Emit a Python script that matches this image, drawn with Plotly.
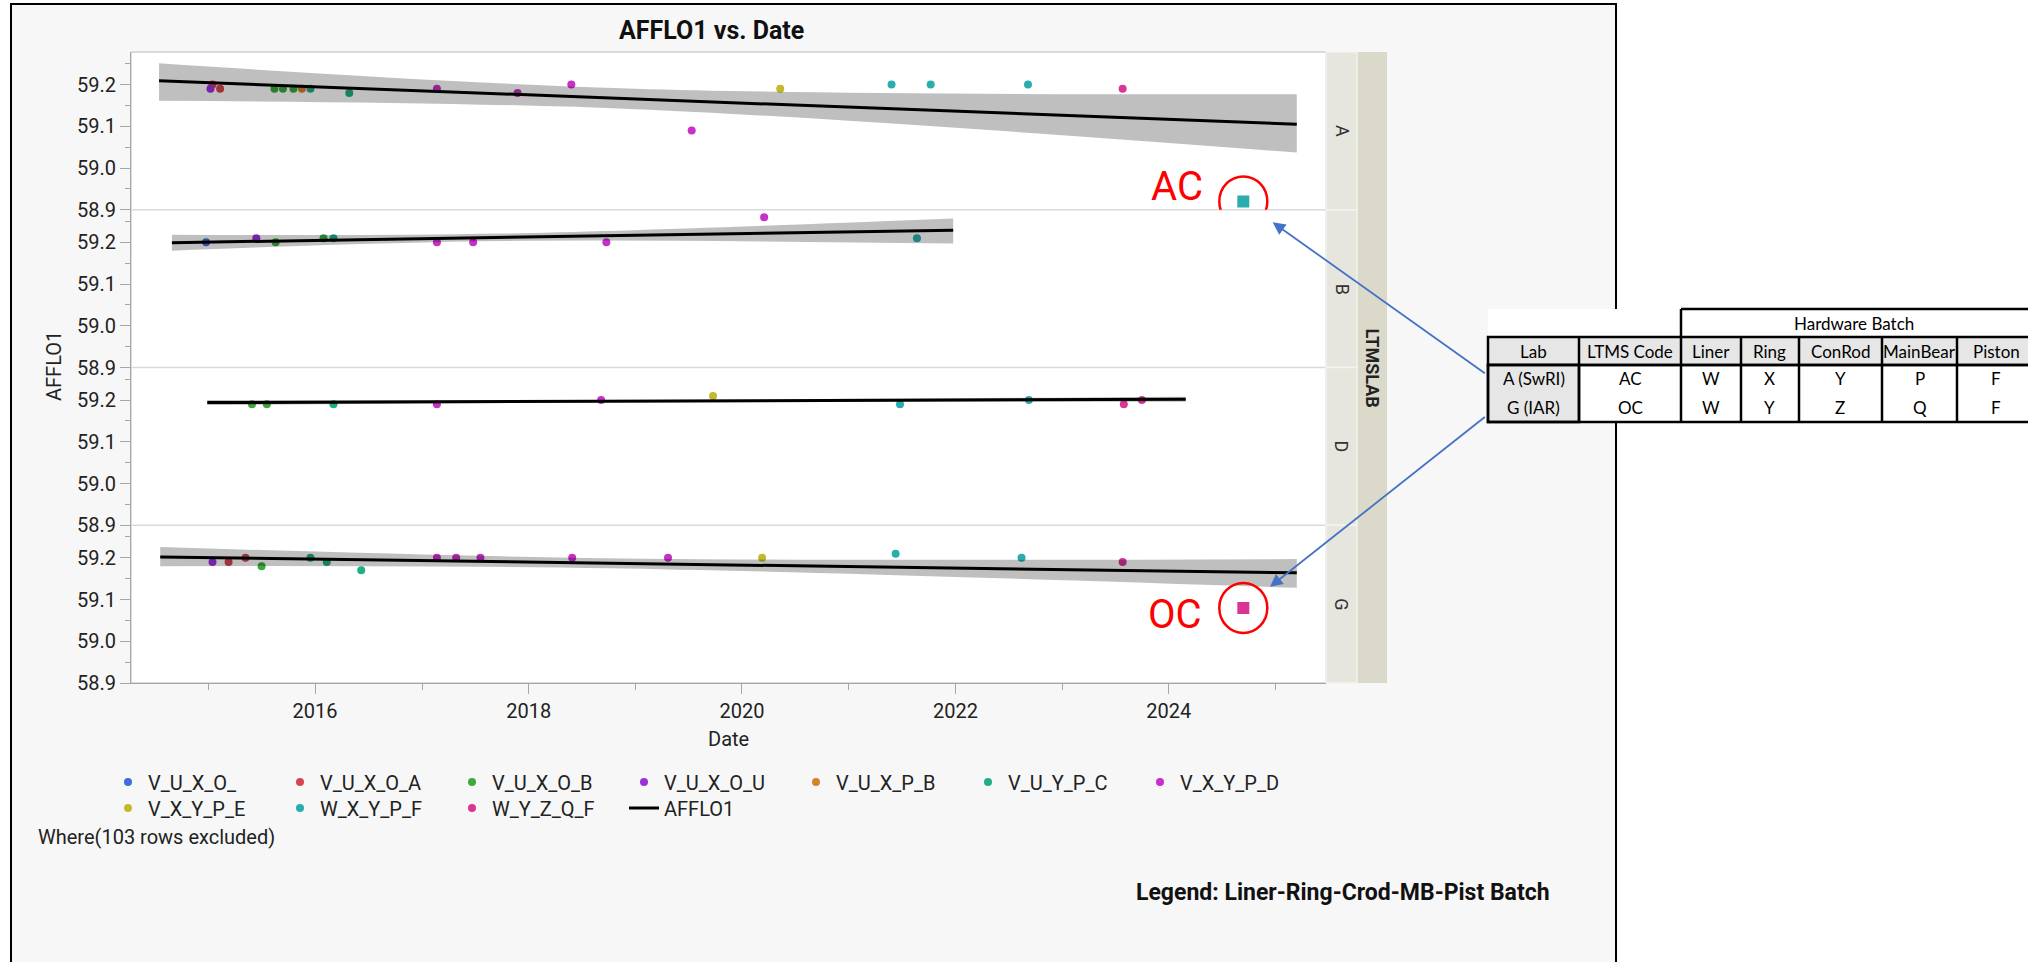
import plotly.graph_objects as go

# ---------------- data ----------------
batches = ["V_U_X_O_", "V_U_X_O_A", "V_U_X_O_B", "V_U_X_O_U", "V_U_X_P_B",
           "V_U_Y_P_C", "V_X_Y_P_D", "V_X_Y_P_E", "W_X_Y_P_F", "W_Y_Z_Q_F"]
batch_colors = ["#3f6fdc", "#d94452", "#3aaa3a", "#9a32dc", "#d7812e",
                "#1fae85", "#c92fc9", "#c5b92b", "#2aadad", "#d93597"]

labs = ["A", "B", "D", "G"]

a_dates = ["2015-01-15", "2015-01-08", "2015-02-10", "2015-08-15", "2015-09-13", "2015-10-19",
           "2015-11-17", "2015-12-16", "2016-04-27", "2017-02-21", "2017-11-24", "2018-05-27",
           "2019-07-13", "2020-05-11", "2021-05-27", "2021-10-08", "2022-09-06", "2023-07-27"]
a_vals = [59.20, 59.19, 59.19, 59.19, 59.19, 59.19, 59.19, 59.19, 59.18, 59.19, 59.18, 59.20,
          59.09, 59.19, 59.20, 59.20, 59.20, 59.19]
a_batch = ["V_U_X_O_A", "V_U_X_O_U", "V_U_X_O_A", "V_U_X_O_B", "V_U_X_O_B", "V_U_X_O_B",
           "V_U_X_P_B", "V_U_Y_P_C", "V_U_Y_P_C", "V_X_Y_P_D", "V_X_Y_P_D", "V_X_Y_P_D",
           "V_X_Y_P_D", "V_X_Y_P_E", "W_X_Y_P_F", "W_X_Y_P_F", "W_X_Y_P_F", "W_Y_Z_Q_F"]

b_dates = ["2014-12-24", "2015-06-14", "2015-08-19", "2016-01-30", "2016-03-04", "2017-02-21",
           "2017-06-25", "2018-09-24", "2020-03-17", "2021-08-22"]
b_vals = [59.20, 59.21, 59.20, 59.21, 59.21, 59.20, 59.20, 59.20, 59.26, 59.21]
b_batch = ["V_U_X_O_", "V_U_X_O_U", "V_U_X_O_B", "V_U_X_O_B", "V_U_Y_P_C", "V_X_Y_P_D",
           "V_X_Y_P_D", "V_X_Y_P_D", "V_X_Y_P_D", "W_X_Y_P_F"]

d_dates = ["2015-05-30", "2015-07-20", "2016-03-04", "2017-02-21", "2018-09-06", "2019-09-24",
           "2021-06-25", "2022-09-09", "2023-07-31", "2023-10-01"]
d_vals = [59.19, 59.19, 59.19, 59.19, 59.20, 59.21, 59.19, 59.20, 59.19, 59.20]
d_batch = ["V_U_X_O_B", "V_U_X_O_B", "V_U_Y_P_C", "V_X_Y_P_D", "V_X_Y_P_D", "V_X_Y_P_E",
           "W_X_Y_P_F", "W_X_Y_P_F", "W_Y_Z_Q_F", "W_Y_Z_Q_F"]

g_dates = ["2015-01-15", "2015-03-11", "2015-05-08", "2015-07-02", "2015-12-16", "2016-02-10",
           "2016-06-07", "2017-02-21", "2017-04-28", "2017-07-20", "2018-05-30", "2019-04-23",
           "2020-03-10", "2021-06-10", "2022-08-15", "2023-07-27"]
g_vals = [59.19, 59.19, 59.20, 59.18, 59.20, 59.19, 59.17, 59.20, 59.20, 59.20, 59.20, 59.20,
          59.20, 59.21, 59.20, 59.19]
g_batch = ["V_U_X_O_U", "V_U_X_O_A", "V_U_X_O_A", "V_U_X_O_B", "V_U_Y_P_C", "V_U_Y_P_C",
           "V_U_Y_P_C", "V_X_Y_P_D", "V_X_Y_P_D", "V_X_Y_P_D", "V_X_Y_P_D", "V_X_Y_P_D",
           "V_X_Y_P_E", "W_X_Y_P_F", "W_X_Y_P_F", "W_Y_Z_Q_F"]

# new (highlighted) results
new_labs = ["A", "G"]
new_codes = ["AC", "OC"]
new_dates = ["2024-09-12", "2024-09-12"]
new_vals = [58.92, 59.08]
new_batch = ["W_X_Y_P_F", "W_Y_Z_Q_F"]

# AFFLO1 line of fit per lab
fit_start_dates = ["2014-07-16", "2014-08-29", "2014-12-28", "2014-07-20"]
fit_end_dates = ["2025-03-14", "2021-12-24", "2024-02-28", "2025-03-14"]
fit_start_vals = [59.209, 59.199, 59.194, 59.202]
fit_end_vals = [59.105, 59.229, 59.202, 59.164]

# confidence band of the fit (start / middle / end)
band_dates_a = ["2014-07-16", "2019-01-01", "2025-03-14"]
band_lo_a = [59.161, 59.141, 59.037]
band_hi_a = [59.251, 59.190, 59.177]
band_dates_b = ["2014-08-29", "2017-10-01", "2021-12-24"]
band_lo_b = [59.180, 59.203, 59.197]
band_hi_b = [59.218, 59.221, 59.257]
band_dates_d = ["2014-12-28", "2019-07-01", "2024-02-28"]
band_lo_d = [59.188, 59.195, 59.196]
band_hi_d = [59.200, 59.201, 59.208]
band_dates_g = ["2014-07-20", "2018-10-01", "2025-03-14"]
band_lo_g = [59.180, 59.175, 59.128]
band_hi_g = [59.226, 59.199, 59.197]

y_ticks = [58.9, 59.0, 59.1, 59.2]
y_tick_text = ["58.9", "59.0", "59.1", "59.2"]

table_header = ["Lab", "LTMS Code", "Liner", "Ring", "ConRod", "MainBear", "Piston"]
table_rows = [["A (SwRI)", "AC", "W", "X", "Y", "P", "F"],
              ["G (IAR)", "OC", "W", "Y", "Z", "Q", "F"]]

# ---------------- layout helpers ----------------
W, H = 2028, 962
PL, PR, PT, PB = 131, 1326, 52, 683
FONT = "Roboto, 'Open Sans', sans-serif"
TFONT = "Lato, 'Open Sans', sans-serif"
AX = "#a6a6a6"


def fx(px):
    return (px - PL) / (PR - PL)


def fy(py):
    return (PB - py) / (PB - PT)


def note(x, y, text, size=20, color="#222", family=FONT, **kw):
    d = dict(xref="paper", yref="paper", x=x, y=y, text=text, showarrow=False,
             xanchor="center", yanchor="middle",
             font=dict(family=family, size=size, color=color))
    d.update(kw)
    return d


panel_data = {"A": (a_dates, a_vals, a_batch), "B": (b_dates, b_vals, b_batch),
              "D": (d_dates, d_vals, d_batch), "G": (g_dates, g_vals, g_batch)}
band_data = {"A": (band_dates_a, band_lo_a, band_hi_a), "B": (band_dates_b, band_lo_b, band_hi_b),
             "D": (band_dates_d, band_lo_d, band_hi_d), "G": (band_dates_g, band_lo_g, band_hi_g)}
yname = {"A": "y", "B": "y2", "D": "y3", "G": "y4"}
domains = {"A": [0.75, 1.0], "B": [0.5, 0.75], "D": [0.25, 0.5], "G": [0.0, 0.25]}

fig = go.Figure()

# points
seen = set()
for lab in labs:
    dates, vals, bts = panel_data[lab]
    for bi, b in enumerate(batches):
        xs = [d for d, bb in zip(dates, bts) if bb == b]
        ys = [v for v, bb in zip(vals, bts) if bb == b]
        if not xs:
            continue
        show = b not in seen
        seen.add(b)
        fig.add_trace(go.Scatter(
            x=xs, y=ys, mode="markers", name=b, legendgroup=b, showlegend=show,
            legend="legend" if bi < 7 else "legend2", legendrank=bi + 1,
            marker=dict(color=batch_colors[bi], size=8),
            xaxis="x", yaxis=yname[lab]))

# confidence bands (semi-transparent, over the points)
for lab in labs:
    bd, lo, hi = band_data[lab]
    fig.add_trace(go.Scatter(x=bd, y=lo, mode="lines", line=dict(width=0, shape="spline"),
                             showlegend=False, hoverinfo="skip", xaxis="x", yaxis=yname[lab]))
    fig.add_trace(go.Scatter(x=bd, y=hi, mode="lines", line=dict(width=0, shape="spline"),
                             fill="tonexty", fillcolor="rgba(0,0,0,0.25)",
                             showlegend=False, hoverinfo="skip", xaxis="x", yaxis=yname[lab]))

# fit lines
for i, lab in enumerate(labs):
    fig.add_trace(go.Scatter(
        x=[fit_start_dates[i], fit_end_dates[i]], y=[fit_start_vals[i], fit_end_vals[i]],
        mode="lines", line=dict(color="black", width=3), name="AFFLO1",
        legendgroup="AFFLO1", showlegend=(i == 0), legend="legend2", legendrank=11,
        xaxis="x", yaxis=yname[lab]))

# highlighted new results (squares)
for i, lab in enumerate(new_labs):
    fig.add_trace(go.Scatter(
        x=[new_dates[i]], y=[new_vals[i]], mode="markers", showlegend=False,
        marker=dict(symbol="square", size=12,
                    color=batch_colors[batches.index(new_batch[i])]),
        xaxis="x", yaxis=yname[lab]))

shapes = []
annotations = []

# outer frame + backgrounds
shapes.append(dict(type="rect", xref="paper", yref="paper", x0=fx(11), x1=fx(1616),
                   y0=fy(4), y1=fy(990), fillcolor="#f7f7f7",
                   line=dict(color="black", width=2), layer="below"))
shapes.append(dict(type="rect", xref="paper", yref="paper", x0=0, x1=1, y0=0, y1=1,
                   fillcolor="white", line=dict(color="#b9b9b9", width=1), layer="below"))
for yb in [0.25, 0.5, 0.75]:
    shapes.append(dict(type="line", xref="paper", yref="paper", x0=0, x1=1, y0=yb, y1=yb,
                       line=dict(color="#dadada", width=1.5), layer="below"))

# strips
shapes.append(dict(type="rect", xref="paper", yref="paper", x0=fx(1357), x1=fx(1387),
                   y0=0, y1=1, fillcolor="#dbd9ca", line=dict(width=0), layer="below"))
for lab in labs:
    d0, d1 = domains[lab]
    shapes.append(dict(type="rect", xref="paper", yref="paper", x0=fx(1326), x1=fx(1357),
                       y0=d0, y1=d1, fillcolor="#e6e6de",
                       line=dict(color="#f3f3ef", width=1.5), layer="below"))
    annotations.append(note(fx(1342), (d0 + d1) / 2, lab, size=18, color="#333", textangle=90))
annotations.append(note(fx(1372), 0.5, "<b>LTMSLAB</b>", size=18, color="#222", textangle=90))

# titles and notes
annotations.append(note(fx(711), fy(30), "<b>AFFLO1 vs. Date</b>", size=25, color="#111"))
annotations.append(note(fx(728), fy(739), "Date"))
annotations.append(note(fx(54), fy(366), "AFFLO1", textangle=-90))
annotations.append(note(fx(36), fy(837), "Where(103 rows excluded)", xanchor="left"))
annotations.append(note(fx(1552), fy(893), "<b>Legend: Liner-Ring-Crod-MB-Pist Batch</b>",
                        size=23, color="#111", xanchor="right"))

# table
TX = [1488, 1579, 1681, 1741, 1799, 1882, 1957, 2035]
TY = [309, 337, 365, 422]
TL = dict(color="black", width=2.5)
shapes.append(dict(type="rect", xref="paper", yref="paper", x0=fx(TX[0]), x1=fx(TX[-1]),
                   y0=fy(TY[0]), y1=fy(TY[3]), fillcolor="white", line=dict(width=0), layer="above"))
shapes.append(dict(type="rect", xref="paper", yref="paper", x0=fx(TX[0]), x1=fx(TX[-1]),
                   y0=fy(TY[1]), y1=fy(TY[2]), fillcolor="#e7e6e6", line=TL, layer="above"))
shapes.append(dict(type="rect", xref="paper", yref="paper", x0=fx(TX[0]), x1=fx(TX[1]),
                   y0=fy(TY[2]), y1=fy(TY[3]), fillcolor="#e7e6e6", line=TL, layer="above"))
shapes.append(dict(type="rect", xref="paper", yref="paper", x0=fx(TX[0]), x1=fx(TX[-1]),
                   y0=fy(TY[2]), y1=fy(TY[3]), line=TL, layer="above"))
for xv in TX[1:-1]:
    shapes.append(dict(type="line", xref="paper", yref="paper", x0=fx(xv), x1=fx(xv),
                       y0=fy(TY[1]), y1=fy(TY[3]), line=TL, layer="above"))
shapes.append(dict(type="line", xref="paper", yref="paper", x0=fx(TX[2]), x1=fx(TX[-1]),
                   y0=fy(TY[0]), y1=fy(TY[0]), line=TL, layer="above"))
shapes.append(dict(type="line", xref="paper", yref="paper", x0=fx(TX[2]), x1=fx(TX[2]),
                   y0=fy(TY[0]), y1=fy(TY[1]), line=TL, layer="above"))
annotations.append(note(fx((TX[2] + TX[-1]) / 2 - 4), fy(323), "Hardware Batch",
                        size=17, color="black", family=TFONT))
for ci, h in enumerate(table_header):
    annotations.append(note(fx((TX[ci] + TX[ci + 1]) / 2), fy(351), h,
                            size=17, color="black", family=TFONT))
for ri, row in enumerate(table_rows):
    for ci, v in enumerate(row):
        annotations.append(note(fx((TX[ci] + TX[ci + 1]) / 2), fy(379 + 28 * ri), v,
                                size=17, color="black", family=TFONT))

# highlight circles, labels and arrows anchored on the new results
arrow_offsets = [(243, 173, 36), (243, -192, 34)]
label_shifts = [(-66, 15), (-68, -7)]
for i, lab in enumerate(new_labs):
    shapes.append(dict(type="circle", xref="x", yref=yname[lab], xsizemode="pixel",
                       ysizemode="pixel", xanchor=new_dates[i], yanchor=new_vals[i],
                       x0=-24, x1=24, y0=-25, y1=25, line=dict(color="red", width=2.5),
                       layer="above"))
    annotations.append(dict(xref="x", yref=yname[lab], x=new_dates[i], y=new_vals[i],
                            text=new_codes[i], showarrow=False, xanchor="center",
                            yanchor="middle",
                            xshift=label_shifts[i][0], yshift=label_shifts[i][1],
                            font=dict(family=FONT, size=40, color="red")))
    ax, ay, so = arrow_offsets[i]
    annotations.append(dict(xref="x", yref=yname[lab], x=new_dates[i], y=new_vals[i],
                            text="", showarrow=True, ax=ax, ay=ay, standoff=so,
                            arrowhead=2, arrowsize=1.4, arrowwidth=1.8, arrowcolor="#4472c4"))

ycommon = dict(range=[58.9, 59.278], tickmode="array", tickvals=y_ticks, ticktext=y_tick_text,
               showline=True, linecolor=AX, linewidth=1, ticks="outside", ticklen=10,
               tickcolor=AX, tickfont=dict(family=FONT, size=20, color="#222"),
               showgrid=False, zeroline=False, anchor="x",
               minor=dict(tick0=58.9, dtick=0.05, ticks="outside", ticklen=5, tickcolor=AX))

legend_common = dict(orientation="h", xanchor="left", yanchor="middle", x=fx(108),
                     entrywidth=127, entrywidthmode="pixels", bgcolor="rgba(0,0,0,0)",
                     font=dict(family=FONT, size=20, color="#222"), borderwidth=0,
                     traceorder="normal")

fig.update_layout(
    width=W, height=H, autosize=False,
    margin=dict(l=PL, r=W - PR, t=PT, b=H - PB, pad=0),
    paper_bgcolor="white", plot_bgcolor="rgba(0,0,0,0)",
    xaxis=dict(type="date", range=["2014-04-11", "2025-06-22"], anchor="y4", domain=[0, 1],
               tick0="2016-01-01", dtick="M24", tickformat="%Y", ticks="outside", ticklen=10,
               tickcolor=AX, showline=True, linecolor=AX, showgrid=False, zeroline=False,
               tickfont=dict(family=FONT, size=20, color="#222"),
               minor=dict(tick0="2015-01-01", dtick="M12", ticks="outside", ticklen=6,
                          tickcolor=AX)),
    yaxis=dict(domain=domains["A"], **ycommon),
    yaxis2=dict(domain=domains["B"], **ycommon),
    yaxis3=dict(domain=domains["D"], **ycommon),
    yaxis4=dict(domain=domains["G"], **ycommon),
    legend=dict(y=fy(782), **legend_common),
    legend2=dict(y=fy(808), **legend_common),
    shapes=shapes, annotations=annotations, showlegend=True,
)

fig.write_html("out.html", config={"displayModeBar": False},
               post_script="document.body.style.margin='0';document.body.style.overflow='hidden';")
